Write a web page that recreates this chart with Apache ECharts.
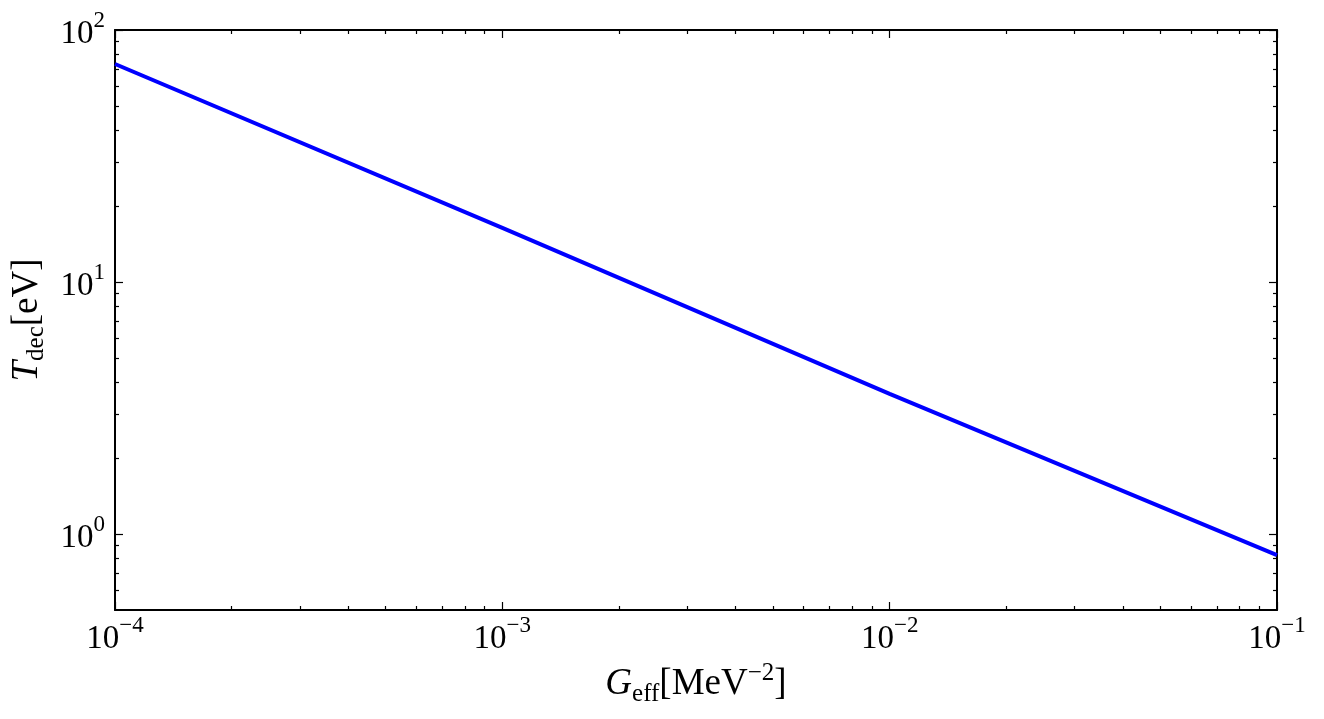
<!DOCTYPE html>
<html>
<head>
    <meta charset="utf-8">
    <title>T_dec vs G_eff</title>
    <script src="https://cdn.jsdelivr.net/npm/echarts@6/dist/echarts.min.js"></script>
    <style>
        html, body { margin: 0; padding: 0; background: #fff; }
        #chart { width: 1324px; height: 719px; }
    </style>
</head>
<body>
    <div id="chart"></div>
    <script type="text/javascript">
        // data
        const gEff = [1e-4, 1e-3, 1e-2, 1e-1];
        const tDec = [73.3, 16.4, 3.6, 0.825];

        const xMajor = [1e-4, 1e-3, 1e-2, 1e-1];
        const xMinor = [2e-4, 3e-4, 4e-4, 5e-4, 6e-4, 7e-4, 8e-4, 9e-4,
                        2e-3, 3e-3, 4e-3, 5e-3, 6e-3, 7e-3, 8e-3, 9e-3,
                        2e-2, 3e-2, 4e-2, 5e-2, 6e-2, 7e-2, 8e-2, 9e-2];
        const yMajor = [1, 10, 100];
        const yMinor = [0.6, 0.7, 0.8, 0.9, 2, 3, 4, 5, 6, 7, 8, 9,
                        20, 30, 40, 50, 60, 70, 80, 90];

        const FONT = 'Liberation Serif';
        const chart = echarts.init(document.getElementById('chart'));

        function powLabel(v) {
            const e = Math.round(Math.log10(v));
            return '{b|10}{s|' + String(e).replace('-', '\u2212') + '}';
        }
        const powRich = {
            b: { fontFamily: FONT, fontSize: 33, lineHeight: 42, verticalAlign: 'bottom', color: '#000' },
            s: { fontFamily: FONT, fontSize: 23, lineHeight: 22, verticalAlign: 'top', color: '#000' }
        };

        function axisBase(extra) {
            return Object.assign({
                type: 'log',
                logBase: 10,
                splitLine: { show: false },
                axisLine: { show: true, onZero: false, lineStyle: { color: '#000', width: 2 } },
                axisLabel: { show: false },
                axisTick: { show: true, inside: true, length: 8, lineStyle: { color: '#000', width: 1.2 } }
            }, extra);
        }

        const option = {
            animation: false,
            grid: { left: 115, right: 47, top: 30, bottom: 109, outerBoundsMode: 'none', containLabel: false },
            xAxis: [
                axisBase({
                    position: 'bottom', min: 1e-4, max: 1e-1,
                    name: '{g|G}{sub|eff}{n|[MeV}{sup|\u22122}{n|]}',
                    nameLocation: 'middle', nameGap: 50,
                    nameTextStyle: {
                        rich: {
                            g: { fontFamily: FONT, fontStyle: 'italic', fontSize: 37, lineHeight: 46, verticalAlign: 'middle', color: '#000' },
                            sub: { fontFamily: FONT, fontSize: 25, lineHeight: 44, verticalAlign: 'bottom', color: '#000' },
                            n: { fontFamily: FONT, fontSize: 37, lineHeight: 46, verticalAlign: 'middle', color: '#000' },
                            sup: { fontFamily: FONT, fontSize: 25, lineHeight: 20, verticalAlign: 'top', color: '#000' }
                        }
                    },
                    axisTick: { show: true, inside: true, length: 8, customValues: xMajor, lineStyle: { color: '#000', width: 1.2 } },
                    axisLabel: { show: true, customValues: xMajor, margin: 4, formatter: powLabel, rich: powRich }
                }),
                axisBase({
                    position: 'bottom', min: 1e-4, max: 1e-1,
                    axisLine: { show: false },
                    axisTick: { show: true, inside: true, length: 4, customValues: xMinor, lineStyle: { color: '#000', width: 1.2 } }
                }),
                axisBase({
                    position: 'top', min: 1e-4, max: 1e-1,
                    axisTick: { show: true, inside: true, length: 8, customValues: xMajor, lineStyle: { color: '#000', width: 1.2 } }
                }),
                axisBase({
                    position: 'top', min: 1e-4, max: 1e-1,
                    axisLine: { show: false },
                    axisTick: { show: true, inside: true, length: 4, customValues: xMinor, lineStyle: { color: '#000', width: 1.2 } }
                })
            ],
            yAxis: [
                axisBase({
                    position: 'left', min: 0.5, max: 100,
                    name: '{t|T}{sub|dec}{n|[eV]}',
                    nameLocation: 'middle', nameGap: 66, nameRotate: 90,
                    nameTextStyle: {
                        rich: {
                            t: { fontFamily: FONT, fontStyle: 'italic', fontSize: 37, lineHeight: 44, verticalAlign: 'middle', color: '#000' },
                            sub: { fontFamily: FONT, fontSize: 25, lineHeight: 44, verticalAlign: 'bottom', color: '#000' },
                            n: { fontFamily: FONT, fontSize: 37, lineHeight: 44, verticalAlign: 'middle', color: '#000' }
                        }
                    },
                    axisTick: { show: true, inside: true, length: 8, customValues: yMajor, lineStyle: { color: '#000', width: 1.2 } },
                    axisLabel: { show: true, customValues: yMajor, margin: 10, formatter: powLabel, rich: powRich }
                }),
                axisBase({
                    position: 'left', min: 0.5, max: 100,
                    axisLine: { show: false },
                    axisTick: { show: true, inside: true, length: 4, customValues: yMinor, lineStyle: { color: '#000', width: 1.2 } }
                }),
                axisBase({
                    position: 'right', min: 0.5, max: 100,
                    axisTick: { show: true, inside: true, length: 8, customValues: yMajor, lineStyle: { color: '#000', width: 1.2 } }
                }),
                axisBase({
                    position: 'right', min: 0.5, max: 100,
                    axisLine: { show: false },
                    axisTick: { show: true, inside: true, length: 4, customValues: yMinor, lineStyle: { color: '#000', width: 1.2 } }
                })
            ],
            series: [{
                type: 'line',
                xAxisIndex: 0,
                yAxisIndex: 0,
                data: gEff.map(function (g, i) { return [g, tDec[i]]; }),
                showSymbol: false,
                lineStyle: { color: '#0000ff', width: 4 }
            }]
        };
        chart.setOption(option);
    </script>
</body>
</html>
